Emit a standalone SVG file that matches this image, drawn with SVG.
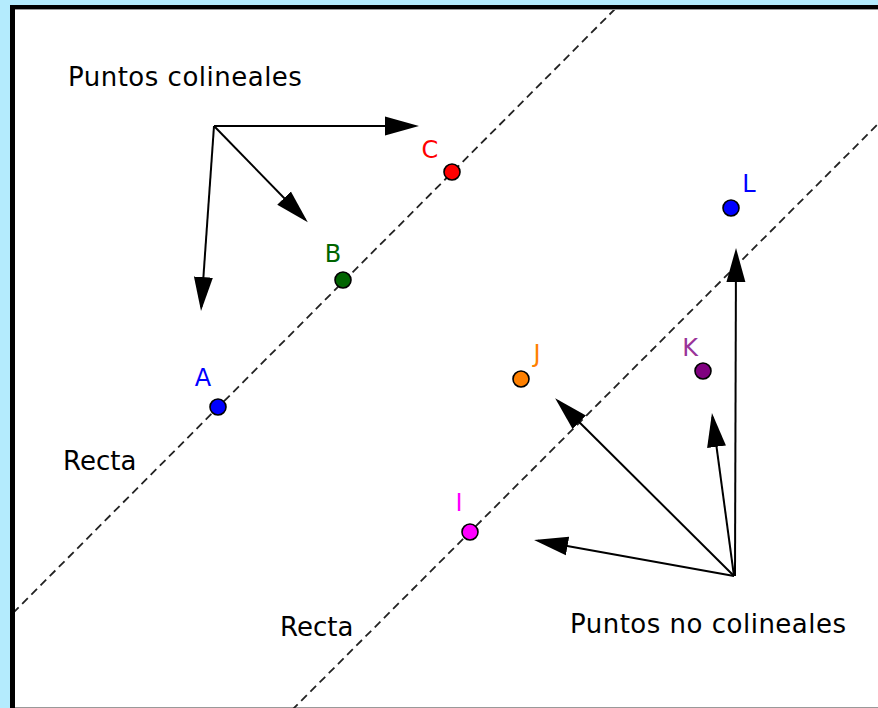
<svg xmlns="http://www.w3.org/2000/svg" width="878" height="708" viewBox="0 0 878 708">
<style>
.txt{font-family:"DejaVu Sans",sans-serif;font-size:26px;letter-spacing:0.5px;fill:#000}
.lbl{font-family:"DejaVu Sans",sans-serif;font-size:24px;text-anchor:middle}
.dash{stroke:#222;stroke-width:1.8;stroke-dasharray:8,5;fill:none}
.arr{stroke:#000;stroke-width:2;fill:none;marker-end:url(#head)}
.pt{stroke:#000;stroke-width:1.6}
</style>
<defs>
<marker id="head" viewBox="0 0 34 20" refX="30" refY="10" markerWidth="34" markerHeight="20" markerUnits="userSpaceOnUse" orient="auto">
<path d="M0,0.5 L34,10 L0,19.5 z" fill="#000"/>
</marker>
<clipPath id="area"><rect x="15" y="10" width="863" height="698"/></clipPath>
</defs>
<rect x="0" y="0" width="878" height="708" fill="#b4ebfd"/>
<rect x="10" y="5" width="868" height="703" fill="#000"/>
<rect x="15" y="9" width="863" height="699" fill="#999"/>
<rect x="15" y="10" width="863" height="697" fill="#fff"/>
<g id="connectors">
<g clip-path="url(#area)">
<line class="dash" x1="13" y1="613" x2="616" y2="8"/>
<line class="dash" x1="292" y1="710" x2="880" y2="122"/>
</g>
<line class="arr" x1="214" y1="126" x2="415" y2="126"/>
<line class="arr" x1="214" y1="126" x2="305" y2="219.5"/>
<line class="arr" x1="214" y1="126" x2="201.3" y2="307"/>
<line class="arr" x1="734" y1="576" x2="538" y2="540.7"/>
<line class="arr" x1="734" y1="576" x2="558" y2="401"/>
<line class="arr" x1="734" y1="576" x2="712.5" y2="417"/>
<line class="arr" x1="735" y1="576" x2="736" y2="252"/>
</g>
<g id="title1"><text class="txt" x="68" y="86">Puntos colineales</text></g>
<g id="title2"><text class="txt" x="570" y="633">Puntos no colineales</text></g>
<g id="recta1"><text class="txt" x="63" y="470" style="letter-spacing:0">Recta</text></g>
<g id="recta2"><text class="txt" x="280" y="636" style="letter-spacing:0">Recta</text></g>
<g id="A"><circle class="pt" cx="218" cy="407" r="8" fill="#0000ff"/><text class="lbl" x="203" y="386" fill="#0000ff">A</text></g>
<g id="B"><circle class="pt" cx="343" cy="280" r="8" fill="#006400"/><text class="lbl" x="333" y="262" fill="#006400">B</text></g>
<g id="C"><circle class="pt" cx="452" cy="172" r="8" fill="#ff0000"/><text class="lbl" x="430" y="158" fill="#ff0000">C</text></g>
<g id="J"><circle class="pt" cx="521" cy="379" r="8" fill="#ff8000"/><text class="lbl" x="537" y="362" fill="#ff8000">J</text></g>
<g id="K"><circle class="pt" cx="703" cy="371" r="8" fill="#800080"/><text class="lbl" x="690" y="356" fill="#993399">K</text></g>
<g id="L"><circle class="pt" cx="731" cy="208" r="8" fill="#0000ff"/><text class="lbl" x="749" y="192" fill="#0000ff">L</text></g>
<g id="I"><circle class="pt" cx="470" cy="532" r="8" fill="#ff00ff"/><text class="lbl" x="459" y="511" fill="#ff00ff">I</text></g>
</svg>
